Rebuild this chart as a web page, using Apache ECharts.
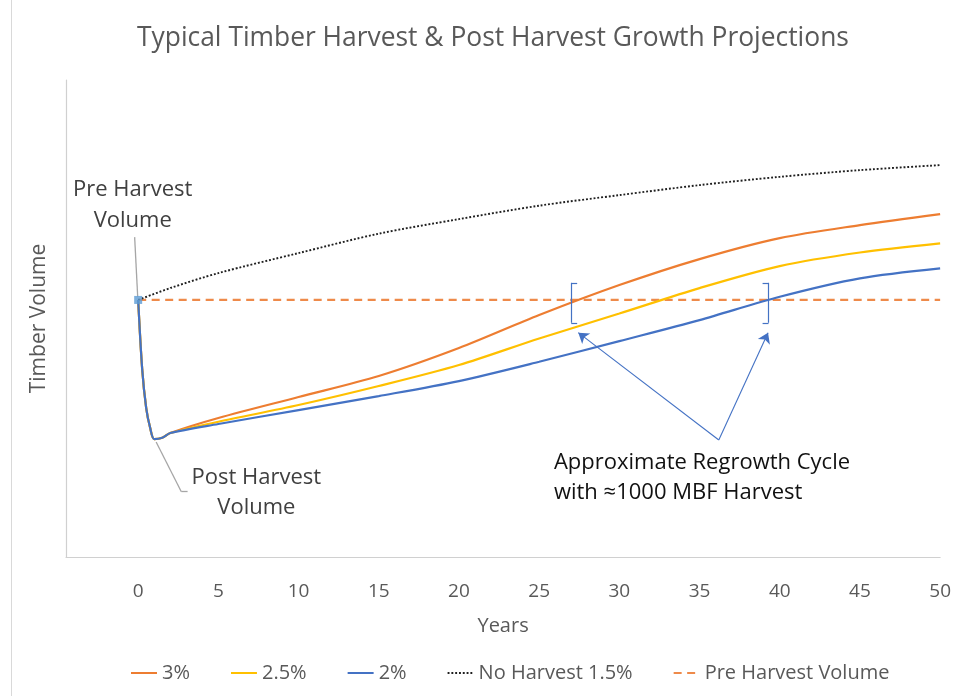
<!DOCTYPE html>
<html>
<head>
<meta charset="utf-8">
<script src="https://cdn.jsdelivr.net/npm/echarts@6/dist/echarts.min.js"></script>
<style>
  html, body { margin: 0; background: #fff; }
  #chart { width: 954px; height: 696px; }
</style>
</head>
<body>
<div id="chart"></div>
<script>
// Years on the x axis, volume is unitless (MBF-ish) – the y axis has no labels.
const X_TICKS = [0, 5, 10, 15, 20, 25, 30, 35, 40, 45, 50];

// harvest drop shared by the three regrowth scenarios
const DROP_YEARS = [0, 0.25, 0.5, 0.75, 1, 1.5, 2];
const DROP_VOLUME = [1800, 1316, 1043, 903, 826, 835, 868];

const GROWTH_YEARS = [5, 10, 15, 20, 25, 30, 35, 40, 45, 50];
const GROWTH_3 = [973, 1120, 1267, 1463, 1694, 1904, 2086, 2233, 2324, 2401];
const GROWTH_25 = [947, 1064, 1197, 1344, 1530, 1705, 1883, 2037, 2132, 2196];
const GROWTH_2 = [931, 1029, 1127, 1232, 1367, 1512, 1659, 1822, 1951, 2021];

const NO_HARVEST_YEARS = [0, 2, 5, 10, 15, 20, 25, 30, 35, 40, 45, 50];
const NO_HARVEST = [1800, 1883, 1988, 2128, 2264, 2366, 2460, 2534, 2604, 2662, 2709, 2744];

const PRE_YEARS = [0, 50];
const PRE_VOLUME = [1800, 1800];

const ORANGE = '#ED7D31';
const YELLOW = '#FFC000';
const BLUE = '#4472C4';
const LEADER = '#a6a6a6';
const TEXT = '#595959';
const FONT = '"Open Sans", sans-serif';

function zip(xs, ys) {
  return xs.map((x, i) => [x, ys[i]]);
}

function harvest(growth) {
  return zip(DROP_YEARS, DROP_VOLUME).concat(zip(GROWTH_YEARS, growth));
}

// mark line segment helpers (data coordinates)
function seg(a, b, color, width) {
  const lineStyle = { color, width, type: 'solid' };
  return [{ coord: a, symbol: 'none', lineStyle }, { coord: b, symbol: 'none', lineStyle }];
}
function arrow(a, b) {
  const lineStyle = { color: BLUE, width: 1.1, type: 'solid' };
  return [{ coord: a, symbol: 'none', lineStyle }, { coord: b, symbol: 'arrow', lineStyle }];
}

function growthLine(name, color, data, z) {
  return {
    name,
    type: 'line',
    data,
    z,
    symbol: 'none',
    smooth: 0.3,
    lineStyle: { color, width: 2.2 },
    itemStyle: { color }
  };
}

const chart = echarts.init(document.getElementById('chart'));

chart.setOption({
  animation: false,
  title: {
    text: 'Typical Timber Harvest & Post Harvest Growth Projections',
    left: 132,
    top: 20,
    textStyle: { color: TEXT, fontFamily: FONT, fontSize: 26.4, fontWeight: 'normal' }
  },
  legend: {
    bottom: 8,
    left: 125,
    itemWidth: 26,
    itemGap: 40,
    itemStyle: { opacity: 0 },
    textStyle: { color: TEXT, fontFamily: FONT, fontSize: 20 },
    data: ['3%', '2.5%', '2%', 'No Harvest 1.5%', 'Pre Harvest Volume']
  },
  grid: { left: 66, right: 12, top: 80, bottom: 139 },
  xAxis: {
    type: 'value',
    min: -4.5,
    max: 50,
    name: 'Years',
    nameLocation: 'middle',
    nameGap: 59,
    nameTextStyle: { color: TEXT, fontFamily: FONT, fontSize: 20 },
    axisLine: { onZero: false, lineStyle: { color: '#d0d0d0', width: 1.2 } },
    axisTick: { show: false },
    splitLine: { show: false },
    axisLabel: {
      customValues: X_TICKS,
      color: TEXT,
      fontFamily: FONT,
      fontSize: 19,
      margin: 25
    }
  },
  yAxis: {
    type: 'value',
    min: 0,
    max: 3340,
    name: 'Timber Volume',
    nameLocation: 'middle',
    nameGap: 16,
    nameTextStyle: { color: TEXT, fontFamily: FONT, fontSize: 21 },
    axisLine: { show: true, onZero: false, lineStyle: { color: '#d0d0d0', width: 1.2 } },
    axisTick: { show: false },
    axisLabel: { show: false },
    splitLine: { show: false }
  },
  series: [
    {
      name: 'Pre Harvest Volume',
      type: 'line',
      data: zip(PRE_YEARS, PRE_VOLUME),
      z: 1,
      symbol: 'none',
      lineStyle: { color: '#EE8A4A', width: 2.2, type: [8, 5.5] },
      itemStyle: { color: '#EE8A4A' },
      markLine: {
        silent: true,
        animation: false,
        symbolSize: 10,
        label: { show: false },
        data: [
          // grey leader lines to the callout labels
          seg([-0.22, 2240], [-0.03, 1822], LEADER, 1.3),
          seg([1.12, 805], [2.69, 457], LEADER, 1.3),
          seg([2.69, 457], [3.08, 457], LEADER, 1.3),
          // brackets around the regrowth cycle
          seg([27.0, 1920], [27.0, 1640], BLUE, 1.2),
          seg([27.0, 1920], [27.37, 1920], BLUE, 1.2),
          seg([27.0, 1640], [27.37, 1640], BLUE, 1.2),
          seg([39.3, 1920], [39.3, 1640], BLUE, 1.2),
          seg([39.3, 1920], [38.93, 1920], BLUE, 1.2),
          seg([39.3, 1640], [38.93, 1640], BLUE, 1.2),
          arrow([36.2, 819], [27.44, 1571]),
          arrow([36.2, 819], [39.27, 1570])
        ]
      }
    },
    {
      name: 'No Harvest 1.5%',
      type: 'line',
      data: zip(NO_HARVEST_YEARS, NO_HARVEST),
      z: 2,
      symbol: 'none',
      smooth: 0.3,
      lineStyle: { color: '#1f1f1f', width: 1.9, type: [1.9, 1.9] },
      itemStyle: { color: '#1f1f1f' }
    },
    growthLine('3%', ORANGE, harvest(GROWTH_3), 3),
    growthLine('2.5%', YELLOW, harvest(GROWTH_25), 4),
    growthLine('2%', BLUE, harvest(GROWTH_2), 5),
    {
      // pre-harvest point marker
      type: 'scatter',
      data: [[PRE_YEARS[0], PRE_VOLUME[0]]],
      z: 6,
      symbol: 'rect',
      symbolSize: 8,
      itemStyle: { color: '#5B9BD5' },
      silent: true
    }
  ]
});

// text callouts placed in data coordinates
function px(x, y) {
  return chart.convertToPixel({ gridIndex: 0 }, [x, y]);
}
const labelStyle = { fontFamily: FONT, fontSize: 22, lineHeight: 31, fill: '#404040', verticalAlign: 'middle' };
const pre = px(-0.34, 2460);
const post = px(7.37, 448);
const cycle = px(25.92, 553);
chart.setOption({
  graphic: [
    { type: 'line', shape: { x1: 11.5, y1: 0, x2: 11.5, y2: 696 }, style: { stroke: '#d9d9d9', lineWidth: 1 }, silent: true },
    { type: 'text', x: pre[0], y: pre[1], style: Object.assign({}, labelStyle, { text: 'Pre Harvest\nVolume', align: 'center' }) },
    { type: 'text', x: post[0], y: post[1], style: Object.assign({}, labelStyle, { text: 'Post Harvest\nVolume', align: 'center', lineHeight: 30 }) },
    { type: 'text', x: cycle[0], y: cycle[1], style: Object.assign({}, labelStyle, { text: 'Approximate Regrowth Cycle\nwith \u22481000 MBF Harvest', align: 'left', fill: '#111', lineHeight: 30 }) }
  ]
});
</script>
</body>
</html>
